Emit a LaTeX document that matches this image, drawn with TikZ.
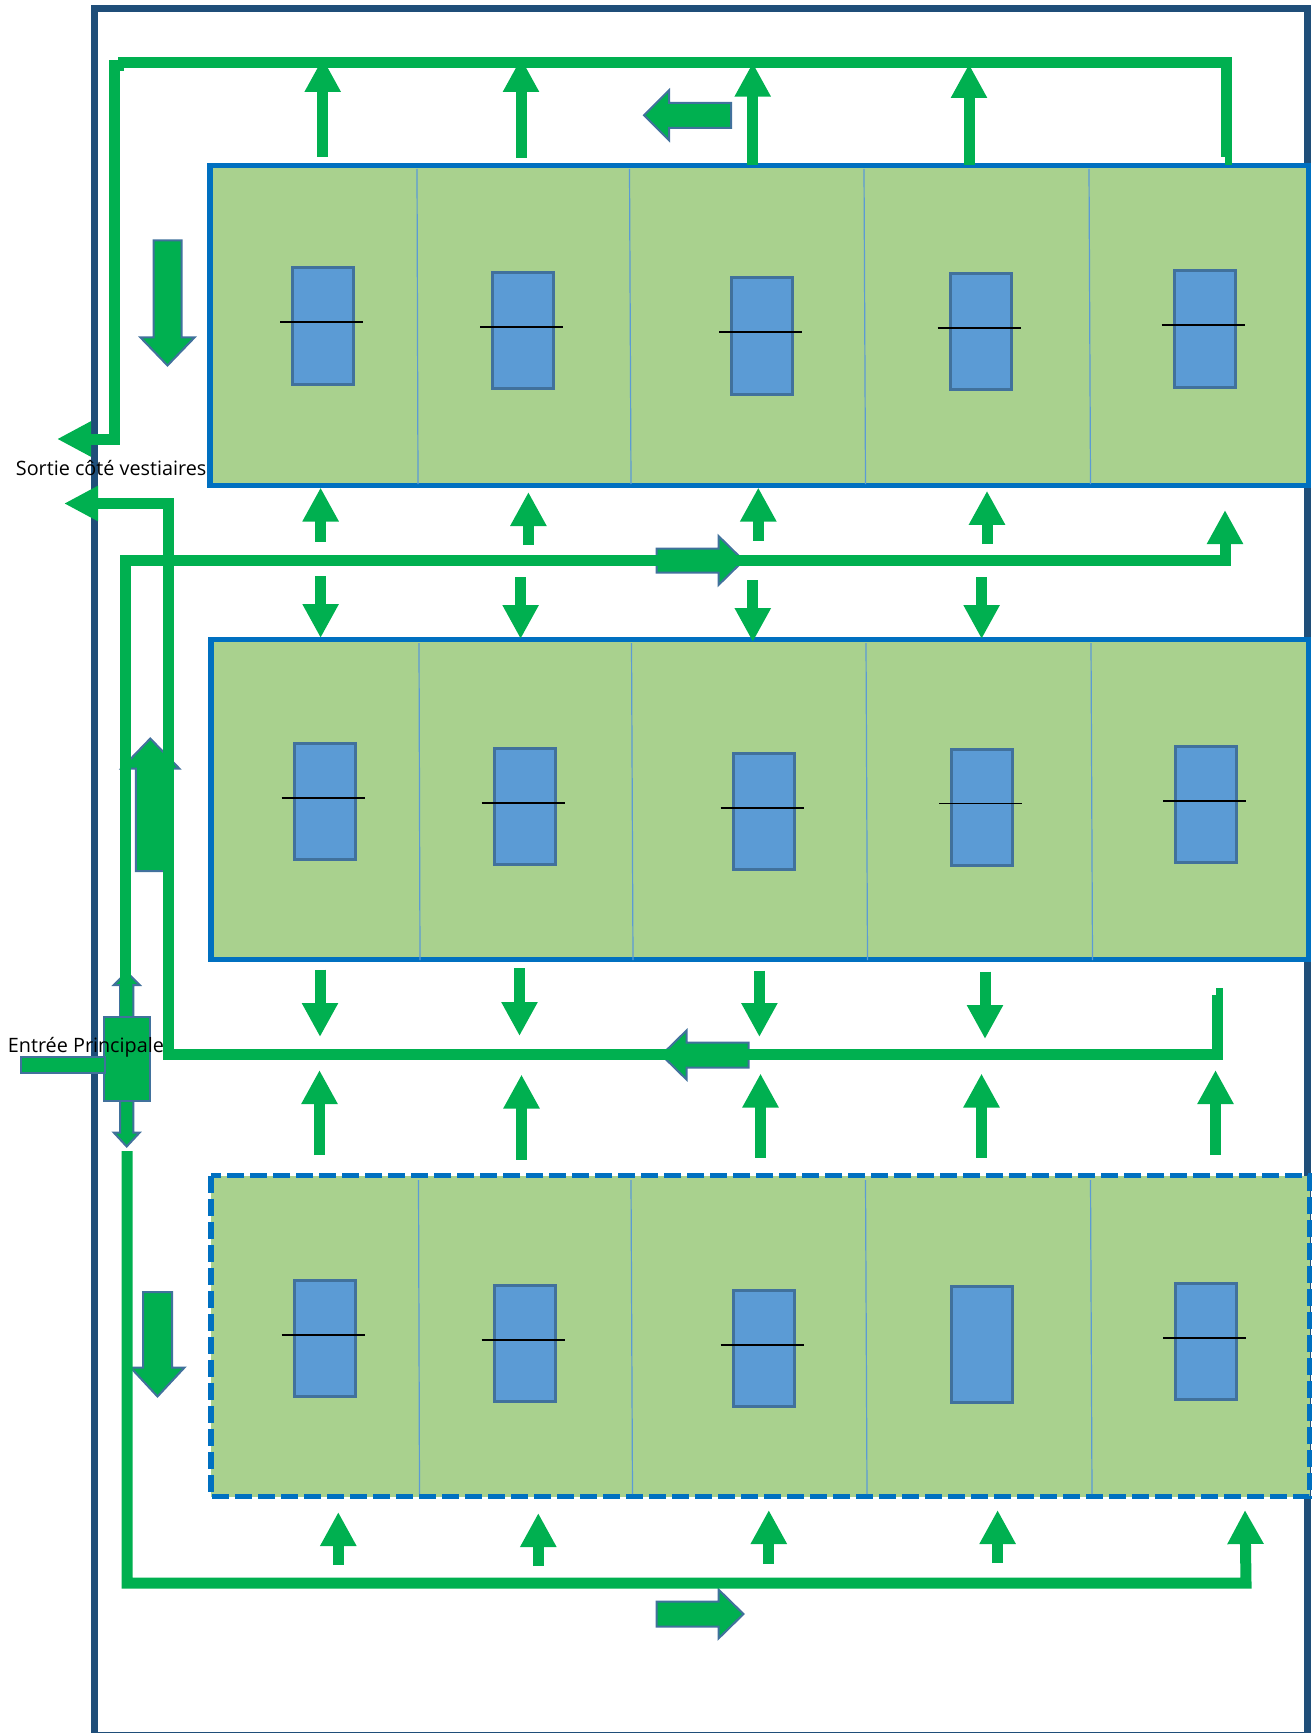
\documentclass[tikz,border=0pt]{standalone}
\usepackage{fontspec}
\setmainfont{Open Sans}
\usetikzlibrary{arrows.meta}
\definecolor{flowgreen}{HTML}{00B050}
\definecolor{zonegreen}{HTML}{A9D18E}
\definecolor{zoneblue}{HTML}{0070C0}
\definecolor{cabinblue}{HTML}{5B9BD5}
\definecolor{edgeblue}{HTML}{41719C}
\definecolor{framenavy}{HTML}{1F4E79}
\tikzset{
  route/.style={draw=flowgreen, line width=5.5pt},
  flow/.style={route, -{Triangle[length=17pt,width=17pt]}},
  zone/.style={draw=zoneblue, line width=2.75pt, fill=zonegreen},
  divider/.style={draw=cabinblue, line width=.6pt},
  cabin/.style={draw=edgeblue, line width=1.5pt, fill=cabinblue, inner sep=0pt, minimum width=30.5pt, minimum height=58pt},
  blockarrow/.style={draw=edgeblue, line width=1pt, fill=flowgreen},
  caption/.style={inner sep=0pt, anchor=west, font=\fontsize{9.9}{11}\selectfont}
}
\begin{document}
\begin{tikzpicture}[x=.5pt, y=-.5pt]
  \useasboundingbox (0,0) rectangle (1311,1733);
  % outer wall
  \draw[framenavy, line width=3.5pt] (94,1740) -- (94,8.5) -- (1307,8.5) -- (1307,1740);
  \draw[framenavy, line width=3.5pt] (94,1735.5) -- (1307,1735.5);
  % the three zones
  \draw[zone] (210,165.5) rectangle (1308.5,485.5);
  \draw[zone] (211,639.5) rectangle (1308.5,959.5);
  \draw[zone, dash pattern=on 8.5pt off 3pt] (211,1175.5) rectangle (1309.5,1496.5);
  \foreach \xa/\xb in {417/418, 629.5/631, 864/865.5, 1089/1090.5} {
    \draw[divider] (\xa,169) -- (\xb,484);
    \draw[divider] (\xa+2,643) -- (\xb+2,960);
    \draw[divider] (\xa+1.5,1180) -- (\xb+1.5,1494);
  }
  \foreach \r/\dx/\dy in {1/0/0, 2/1.5/475.5, 3/1.5/1012.5} {
    \foreach \c/\x/\y in {1/323/326, 2/523/330.5, 3/762/336, 4/980.5/331.5, 5/1204.5/329} {
      \node[cabin] (box\r\c) at (\x+\dx,\y+\dy) {};
    }
  }
  \foreach \n/\w in {11/1, 12/.6, 13/1, 14/1, 15/1, 21/1, 22/1, 23/.6, 24/.6, 25/1, 31/1, 32/1, 33/.6, 35/1} {
    \draw[line width=\w pt] ([shift={(-43,-3.5)}]box\n.center) -- ([shift={(40,-3.5)}]box\n.center);
  }
  % big direction arrows: start x/y, angle, length, head, half shaft, half head
  \foreach \x/\y/\rot/\len/\hl/\sw/\hw in {
    731/115.3/180/87/25/12.5/25,
    167.5/240.5/-90/125/28/14/27,
    656.5/560.5/0/87/25/12/24.5,
    150.3/871/90/132.5/30/14.5/29,
    748.5/1055/180/87/25/12.5/24.5,
    157.5/1292/-90/104.5/29/14.5/27,
    656.5/1614/0/87/25/12.5/24.5,
    126.7/1060/90/88/13/6.7/13,
    126.7/1060/-90/86.5/14/6.7/13} {
    \draw[blockarrow, shift={(\x,\y)}, rotate=\rot] (0,-\sw) -- (\len-\hl,-\sw) -- (\len-\hl,-\hw) -- (\len,0) -- (\len-\hl,\hw) -- (\len-\hl,\sw) -- (0,\sw) -- cycle;
  }
  \node[blockarrow, inner sep=0pt, minimum width=23pt, minimum height=42pt] (hall) at (127,1059) {};
  \node[blockarrow, inner sep=0pt, minimum width=42pt, minimum height=8pt] (porch) at (62.5,1065) {};
  % circulation lines
  \coordinate (topA) at (118,62.8);
  \coordinate (topB) at (1226,157);
  \draw[route] (topA) -| (topB);
  \draw[route, line width=3.5pt] (1228.5,157) -- (1228.5,165);
  \coordinate (exitA) at (124,65.5);
  \coordinate (exitB) at (114,439);
  \coordinate (exitC) at (57,439);
  \draw[route, -{Triangle[length=17pt,width=16.5pt]}] (exitA) -| (exitB) -- (exitC);
  \coordinate (midA) at (125,1016);
  \coordinate (midB) at (1225,560.7);
  \coordinate (midC) at (1225,510);
  \draw[flow] (midA) |- (midB) -- (midC);
  \coordinate (backA) at (1217.5,995);
  \coordinate (backB) at (168.5,1054);
  \coordinate (backC) at (64,503.5);
  \draw[route, -{Triangle[length=17pt,width=16.5pt]}] (backA) |- (backB) |- (backC);
  \draw[route, line width=3.5pt] (1219.5,995) -- (1219.5,987.5);
  \coordinate (lowA) at (127,1151);
  \coordinate (lowB) at (1246,1583);
  \coordinate (lowC) at (1245,1510);
  \draw[flow] (lowA) |- (lowB) -- (lowC);
  % small arrows around the zones
  \foreach \n/\x/\ya/\yb in {
    a/322.7/157/58, b/521/158/58, c/752.7/165/62.7, d/969/165/64,
    e/320.6/541.6/487.5, f/528.4/545/492, g/758.3/540.5/487.5, h/987/544/490.8,
    i/320.6/576/638, j/520.6/577/639, k/752.8/580.3/642, l/981.6/577/639,
    m/320/969.5/1037, n/519.5/968.4/1036, o/759.4/970.6/1037, p/985/971.7/1039,
    q/319.5/1155/1070, r/521.5/1159.5/1074.5, s/760.5/1157.6/1073.5, t/981.5/1157.6/1073.5, u/1215.5/1155/1070,
    v/338.3/1565/1512, w/538.3/1566/1513, x/768.8/1564/1510, y/997.6/1563/1510} {
    \coordinate (from\n) at (\x,\ya);
    \coordinate (to\n) at (\x,\yb);
    \draw[flow] (from\n) -- (to\n);
  }
  % labels
  \node[caption] (exitlabel) at (15.5,468) {Sortie côté vestiaires};
  \node[caption] (doorlabel) at (7.5,1047) {Entrée Principale};
\end{tikzpicture}
\end{document}
